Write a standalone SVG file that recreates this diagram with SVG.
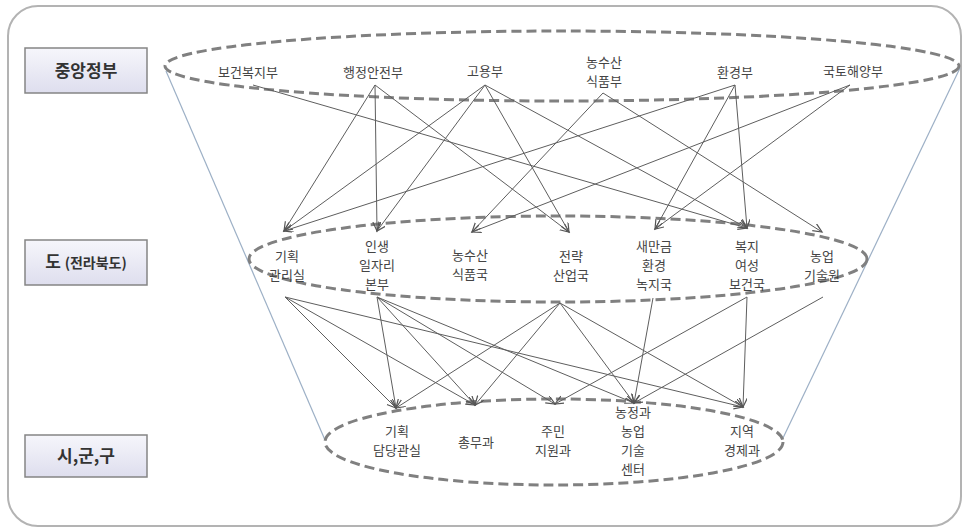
<svg xmlns="http://www.w3.org/2000/svg" width="967" height="532" viewBox="0 0 967 532">
<defs>
<linearGradient id="boxg" x1="0" y1="0" x2="0" y2="1">
<stop offset="0" stop-color="#f6f6fb"/>
<stop offset="1" stop-color="#dedeee"/>
</linearGradient>
<marker id="ah" markerUnits="userSpaceOnUse" markerWidth="12" markerHeight="10" refX="9" refY="4" orient="auto">
<path d="M0,0 L9,4 L0,8" fill="none" stroke="#555" stroke-width="1.2"/>
</marker>
<style>
.lbl{font-family:"Noto Sans CJK KR","Noto Sans",sans-serif;font-size:17px;font-weight:bold;fill:#333;text-anchor:middle}
.t{font-family:"Noto Sans CJK KR","Noto Sans",sans-serif;font-size:13px;fill:#444;text-anchor:middle}
.box{fill:url(#boxg);stroke:#858585;stroke-width:1.5}
.ell{fill:none;stroke:#808080;stroke-width:3;stroke-dasharray:10 5}
.fun{stroke:#9db0c6;stroke-width:1.2;fill:none}
.c{stroke:#5e5e5e;stroke-width:1;fill:none;marker-end:url(#ah)}
</style>
</defs>
<rect x="0" y="0" width="967" height="532" fill="#ffffff"/>
<rect x="8" y="6" width="953" height="520" rx="30" ry="30" fill="#ffffff" stroke="#b3b3b3" stroke-width="2"/>
<g id="frame">
<line class="fun" x1="166" y1="71" x2="325" y2="440"/>
<line class="fun" x1="960" y1="68" x2="783" y2="438"/>
<ellipse class="ell" cx="562" cy="66" rx="397" ry="35"/>
<ellipse class="ell" cx="558" cy="259" rx="309" ry="43"/>
<ellipse class="ell" cx="554" cy="442" rx="229" ry="43"/>
</g>
<g id="label-central"><rect class="box" x="25" y="48" width="122" height="45"/><text class="lbl" x="86" y="77">중앙정부</text></g>
<g id="label-province"><rect class="box" x="25" y="240" width="122" height="45"/><text class="lbl" x="86" y="268">도 <tspan font-size="14px">(전라북도)</tspan></text></g>
<g id="label-city"><rect class="box" x="25" y="435" width="122" height="42"/><text class="lbl" x="86" y="462">시,군,구</text></g>

<g id="top-bokji"><text class="t" x="248" y="77">보건복지부</text></g>
<g id="top-haengan"><text class="t" x="373" y="77">행정안전부</text></g>
<g id="top-goyong"><text class="t" x="485" y="76">고용부</text></g>
<g id="top-nongsusan"><text class="t" x="604" y="67">농수산</text><text class="t" x="604" y="86">식품부</text></g>
<g id="top-hwangyeong"><text class="t" x="735" y="77">환경부</text></g>
<g id="top-gukto"><text class="t" x="853" y="76">국토해양부</text></g>

<g id="mid-gihoek"><text class="t" x="287" y="261">기획</text><text class="t" x="287" y="280">관리실</text></g>
<g id="mid-insaeng"><text class="t" x="377" y="251">인생</text><text class="t" x="377" y="270">일자리</text><text class="t" x="377" y="289">본부</text></g>
<g id="mid-nongsusan"><text class="t" x="470" y="260">농수산</text><text class="t" x="470" y="279">식품국</text></g>
<g id="mid-jeollyak"><text class="t" x="571" y="261">전략</text><text class="t" x="571" y="280">산업국</text></g>
<g id="mid-saemangeum"><text class="t" x="654" y="251">새만금</text><text class="t" x="654" y="270">환경</text><text class="t" x="654" y="289">녹지국</text></g>
<g id="mid-bokji"><text class="t" x="747" y="251">복지</text><text class="t" x="747" y="270">여성</text><text class="t" x="747" y="289">보건국</text></g>
<g id="mid-nongeop"><text class="t" x="822" y="261">농업</text><text class="t" x="822" y="280">기술원</text></g>

<g id="bot-gihoek"><text class="t" x="397" y="436">기획</text><text class="t" x="397" y="455">담당관실</text></g>
<g id="bot-chongmu"><text class="t" x="476" y="447">총무과</text></g>
<g id="bot-jumin"><text class="t" x="553" y="436">주민</text><text class="t" x="553" y="455">지원과</text></g>
<g id="bot-nongjeong"><text class="t" x="633" y="417">농정과</text><text class="t" x="633" y="436">농업</text><text class="t" x="633" y="455">기술</text><text class="t" x="633" y="474">센터</text></g>
<g id="bot-jiyeok"><text class="t" x="742" y="436">지역</text><text class="t" x="742" y="455">경제과</text></g>

<g id="connectors">
<line class="c" x1="253" y1="85" x2="747" y2="228"/>
<line class="c" x1="375" y1="85" x2="284" y2="231"/>
<line class="c" x1="375" y1="85" x2="377" y2="231"/>
<line class="c" x1="375" y1="85" x2="569" y2="232"/>
<line class="c" x1="485" y1="85" x2="284" y2="231"/>
<line class="c" x1="485" y1="85" x2="377" y2="231"/>
<line class="c" x1="485" y1="85" x2="569" y2="232"/>
<line class="c" x1="485" y1="85" x2="747" y2="228"/>
<line class="c" x1="603" y1="93" x2="472" y2="232"/>
<line class="c" x1="603" y1="93" x2="822" y2="232"/>
<line class="c" x1="735" y1="85" x2="284" y2="231"/>
<line class="c" x1="735" y1="85" x2="655" y2="229"/>
<line class="c" x1="735" y1="85" x2="747" y2="228"/>
<line class="c" x1="850" y1="85" x2="472" y2="232"/>
<line class="c" x1="850" y1="85" x2="655" y2="229"/>

<line class="c" x1="285" y1="297" x2="396" y2="408"/>
<line class="c" x1="285" y1="297" x2="475" y2="405"/>
<line class="c" x1="285" y1="297" x2="743" y2="407"/>
<line class="c" x1="377" y1="297" x2="396" y2="408"/>
<line class="c" x1="377" y1="297" x2="475" y2="405"/>
<line class="c" x1="377" y1="297" x2="555" y2="404"/>
<line class="c" x1="377" y1="297" x2="634" y2="403"/>
<line class="c" x1="560" y1="303" x2="396" y2="408"/>
<line class="c" x1="560" y1="303" x2="475" y2="405"/>
<line class="c" x1="560" y1="303" x2="634" y2="403"/>
<line class="c" x1="560" y1="303" x2="743" y2="407"/>
<line class="c" x1="653" y1="298" x2="634" y2="403"/>
<line class="c" x1="747" y1="297" x2="555" y2="404"/>
<line class="c" x1="747" y1="297" x2="743" y2="407"/>
<line class="c" x1="823" y1="297" x2="634" y2="403"/>
</g>
</svg>
